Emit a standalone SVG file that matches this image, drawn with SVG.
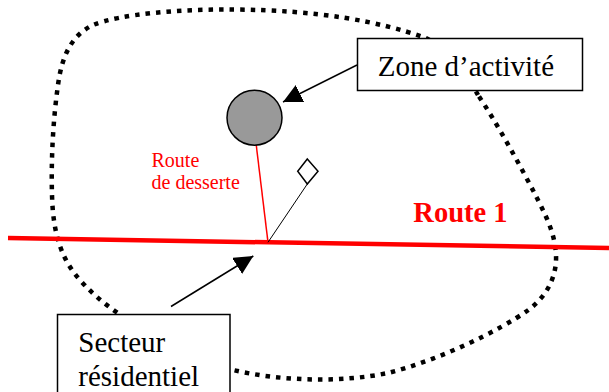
<svg xmlns="http://www.w3.org/2000/svg" width="609" height="392" viewBox="0 0 609 392">
<style>
.boundary{fill:none;stroke:#000;stroke-width:4.5;stroke-dasharray:4.5 6;}
.box{fill:#fff;stroke:#000;stroke-width:1.5;}
.lbl{font-family:"Liberation Serif","Times New Roman",serif;font-size:29px;fill:#000;}
.red{font-family:"Liberation Serif","Times New Roman",serif;fill:#ff0000;}
.arrow{fill:none;stroke:#000;stroke-width:1.5;marker-end:url(#ah);}
</style>
<defs>
<marker id="ah" markerUnits="userSpaceOnUse" markerWidth="20" markerHeight="20" refX="19" refY="9.5" orient="auto">
<path d="M0,0 L19,9.5 L0,19 z" fill="#000"/>
</marker>
</defs>
<rect width="609" height="392" fill="#fff"/>
<g id="zone-boundary">
<path class="boundary" d="M478,95 C470,80 445,45 423,37 C380,22 320,10 233,9.5 C180,9 120,14 93,25 C72,35 62,55 58,85 C53,120 51,160 52,195 C53,235 62,260 80,280 C95,297 110,308 125,318 C160,345 195,362 233,370 C280,381 340,383 388,373 C440,360 500,330 527,311 C548,296 557,275 556,255 C555,235 548,220 538,200 C520,165 495,120 478,95 Z"/>
</g>
<g id="route1">
<line x1="8" y1="238" x2="609" y2="248" stroke="#ff0000" stroke-width="4.5"/>
<text class="red" x="413.3" y="221.7" font-size="28.5" font-weight="bold">Route 1</text>
</g>
<g id="route-desserte">
<line x1="256" y1="143" x2="268" y2="242.3" stroke="#ff0000" stroke-width="1.5"/>
<text class="red" font-size="20"><tspan x="151.5" y="166.5">Route</tspan><tspan x="151.5" y="188.5">de desserte</tspan></text>
</g>
<g id="activity-site">
<circle cx="254.5" cy="117.7" r="27.5" fill="#999999" stroke="#000" stroke-width="1.5"/>
</g>
<g id="marker-post">
<line x1="268" y1="242.3" x2="307.3" y2="184" stroke="#000" stroke-width="1"/>
<polygon points="307.3,159 318,171.3 307.3,184 297.7,171.3" fill="#fff" stroke="#000" stroke-width="1.5"/>
</g>
<g id="connectors">
<path class="arrow" d="M357,65 L283,102"/>
<path class="arrow" d="M171,306.5 L253.3,256"/>
</g>
<g id="zone-activite">
<rect class="box" x="357.5" y="38.5" width="225" height="52"/>
<text class="lbl" x="377.7" y="75.7">Zone d’activité</text>
</g>
<g id="secteur-residentiel">
<rect class="box" x="57.5" y="314.5" width="172.5" height="90"/>
<text class="lbl"><tspan x="78.3" y="351.7">Secteur</tspan><tspan x="78.3" y="385.7">résidentiel</tspan></text>
</g>
</svg>
